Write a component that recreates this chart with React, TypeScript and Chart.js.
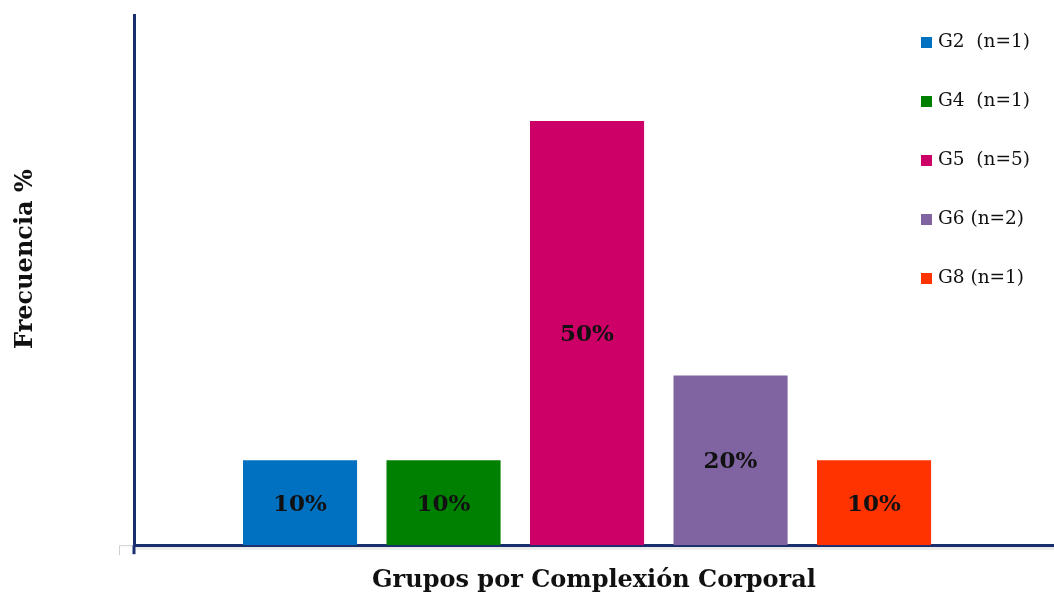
import React, { useEffect, useRef } from "react";
import { Chart, registerables } from "chart.js";

Chart.register(...registerables);

const categories = ["G2", "G4", "G5", "G6", "G8"];
const legendLabels = ["G2  (n=1)", "G4  (n=1)", "G5  (n=5)", "G6 (n=2)", "G8 (n=1)"];
const values = [10, 10, 50, 20, 10];
const colors = ["#0070C0", "#008000", "#CC0066", "#8064A2", "#FF3300"];
const xTitle = "Grupos por Complexión Corporal";
const yTitle = "Frecuencia %";

const NAVY = "#1B2F6E";
const SERIF = "'DejaVu Serif', 'Liberation Serif', serif";

const decorPlugin = {
  id: "decor",
  beforeDatasetsDraw(chart: any) {
    const { ctx, chartArea } = chart;
    ctx.save();
    ctx.strokeStyle = "rgba(0,0,0,0.08)";
    ctx.lineWidth = 3;
    ctx.beginPath();
    ctx.moveTo(chartArea.left, chartArea.bottom + 3);
    ctx.lineTo(chartArea.right, chartArea.bottom + 3);
    ctx.stroke();
    ctx.strokeStyle = "#d0d0d0";
    ctx.lineWidth = 1;
    ctx.beginPath();
    ctx.moveTo(chartArea.left, chartArea.bottom + 0.5);
    ctx.lineTo(chartArea.left - 14.5, chartArea.bottom + 0.5);
    ctx.lineTo(chartArea.left - 14.5, chartArea.bottom + 10);
    ctx.stroke();
    ctx.restore();
  },
  afterDraw(chart: any) {
    const { ctx, chartArea } = chart;
    ctx.save();
    ctx.strokeStyle = NAVY;
    ctx.lineWidth = 3;
    ctx.beginPath();
    ctx.moveTo(chartArea.left, chartArea.bottom);
    ctx.lineTo(chartArea.left, chartArea.bottom + 9);
    ctx.stroke();

    const meta = chart.getDatasetMeta(0);
    ctx.fillStyle = "#111";
    ctx.font = `bold 23px ${SERIF}`;
    ctx.textAlign = "center";
    ctx.textBaseline = "middle";
    meta.data.forEach((bar: any, i: number) => {
      const cy = (bar.y + bar.base) / 2 + 2;
      ctx.fillText(`${values[i]}%`, bar.x, cy);
    });

    ctx.save();
    ctx.translate(chartArea.left - 108, (chartArea.top + chartArea.bottom) / 2 - 21);
    ctx.rotate(-Math.PI / 2);
    ctx.font = `bold 24px ${SERIF}`;
    ctx.fillStyle = "#111";
    ctx.fillText(yTitle, 0, 0);
    ctx.restore();

    ctx.font = `18.5px ${SERIF}`;
    ctx.textAlign = "left";
    ctx.textBaseline = "middle";
    legendLabels.forEach((lab, i) => {
      const cy = chartArea.top + 27.5 + i * 59;
      const bx = chartArea.right - 133;
      ctx.fillStyle = colors[i];
      ctx.fillRect(bx, cy - 5.5, 11, 11);
      ctx.fillStyle = "#111";
      ctx.fillText(lab, bx + 17, cy);
    });
    ctx.restore();
  },
};

function App() {
  const ref = useRef<HTMLCanvasElement>(null);
  useEffect(() => {
    if (!ref.current) return;
    const chart = new Chart(ref.current, {
      type: "bar",
      data: {
        labels: categories,
        datasets: [
          {
            label: "Frecuencia",
            data: values.map((v, i) => ({ x: i, y: v })),
            backgroundColor: colors,
            borderWidth: 0,
            barPercentage: 0.795,
            categoryPercentage: 1,
          },
        ],
      },
      options: {
        animation: false,
        responsive: false,
        maintainAspectRatio: false,
        layout: { padding: { left: 134, top: 15, right: 0, bottom: 0 } },
        plugins: { legend: { display: false }, tooltip: { enabled: false } },
        scales: {
          x: {
            type: "linear",
            offset: false,
            min: -1.157,
            max: 5.254,
            ticks: { display: false },
            grid: { display: false, drawTicks: false },
            border: { display: true, color: NAVY, width: 3 },
            title: {
              display: true,
              text: xTitle,
              color: "#111",
              font: { family: SERIF, size: 24, weight: "bold" },
              padding: { top: 21, bottom: 2 },
            },
          },
          y: {
            min: 0,
            max: 62.5,
            ticks: { display: false },
            grid: { display: false, drawTicks: false },
            border: { display: true, color: NAVY, width: 3 },
          },
        },
      },
      plugins: [decorPlugin],
    });
    return () => chart.destroy();
  }, []);
  return (
    <div style={{ position: "fixed", left: 0, top: 0, width: 1054, height: 597, background: "#fff" }}>
      <canvas ref={ref} width={1054} height={597} style={{ display: "block" }} />
    </div>
  );
}

export default App;
